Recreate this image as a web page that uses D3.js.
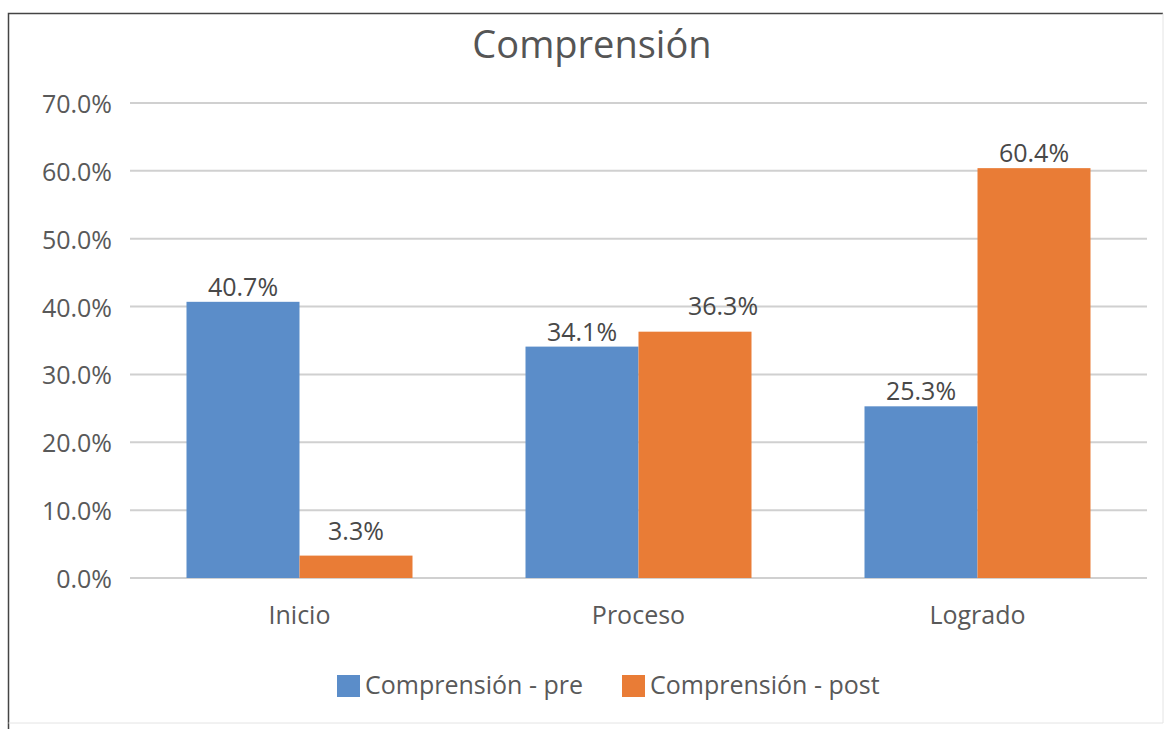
<!DOCTYPE html>
<html>
<head>
  <meta charset="utf-8">
  <title>Comprensión</title>
  <style>
    body { margin: 0; background: white; }
    text { font-family: "Open Sans", "DejaVu Sans", sans-serif; }
    .grid line { stroke: #d0d0d0; stroke-width: 2px; }
    .tick-label { fill: #595959; font-size: 25px; }
    .value-label { fill: #484848; font-size: 25px; }
  </style>
</head>
<body>
  <div id="chart"></div>

  <script src="https://d3js.org/d3.v7.min.js"></script>
  <script>
    const categories = ["Inicio", "Proceso", "Logrado"];
    const seriesNames = ["Comprensión - pre", "Comprensión - post"];
    const preValues = [40.7, 34.1, 25.3];
    const postValues = [3.3, 36.3, 60.4];
    const yTicks = [0, 10, 20, 30, 40, 50, 60, 70];
    const colors = ["#5b8dc9", "#e97c36"];

    const width = 1165, height = 729;
    const plot = { left: 130, right: 1147, top: 103, bottom: 578 };

    // a couple of data labels were dragged by hand in the original
    function labelNudge(cat, series) {
      if (cat === "Inicio" && series === 1) return [0, -10];
      if (cat === "Proceso" && series === 1) return [28, -11];
      return [0, 0];
    }

    const svg = d3.select("#chart")
      .append("svg")
      .attr("width", width)
      .attr("height", height);

    // chart frame: dark left/top, faint right/bottom
    svg.append("path")
      .attr("d", "M1163,13.5 H8.5 V729")
      .attr("fill", "none")
      .attr("stroke", "#444").attr("stroke-width", 1.5);
    svg.append("path")
      .attr("d", "M1163,13.5 V723 H8.5")
      .attr("fill", "none")
      .attr("stroke", "#e4e4e4").attr("stroke-width", 1);

    svg.append("text")
      .attr("x", 592).attr("y", 58)
      .attr("text-anchor", "middle")
      .attr("fill", "#555")
      .style("font-size", "38px")
      .text("Comprensión");

    const y = d3.scaleLinear().domain([0, 70]).range([plot.bottom, plot.top]);
    const x0 = d3.scaleBand().domain(categories)
      .range([plot.left, plot.right])
      .paddingInner(1 / 3).paddingOuter(1 / 6);
    const x1 = d3.scaleBand().domain([0, 1]).range([0, x0.bandwidth()]);

    // gridlines
    svg.append("g").attr("class", "grid")
      .selectAll("line").data(yTicks).enter().append("line")
      .attr("x1", plot.left).attr("x2", plot.right)
      .attr("y1", d => y(d)).attr("y2", d => y(d));

    // y tick labels
    svg.append("g").selectAll("text").data(yTicks).enter().append("text")
      .attr("class", "tick-label")
      .attr("x", 112).attr("y", d => y(d) + 10)
      .attr("text-anchor", "end")
      .text(d => d.toFixed(1) + "%");

    // bars
    const groups = svg.append("g").selectAll("g")
      .data(categories).enter().append("g")
      .attr("transform", d => "translate(" + x0(d) + ",0)");

    groups.selectAll("rect")
      .data((d, i) => [preValues[i], postValues[i]])
      .enter().append("rect")
      .attr("x", (d, j) => x1(j))
      .attr("width", x1.bandwidth())
      .attr("y", d => y(d))
      .attr("height", d => y(0) - y(d))
      .attr("fill", (d, j) => colors[j]);

    groups.each(function (cat, i) {
      d3.select(this).selectAll(".value-label")
        .data([preValues[i], postValues[i]])
        .enter().append("text")
        .attr("class", "value-label")
        .attr("x", (d, j) => x1(j) + x1.bandwidth() / 2 + labelNudge(cat, j)[0])
        .attr("y", (d, j) => y(d) - 6 + labelNudge(cat, j)[1])
        .attr("text-anchor", "middle")
        .text(d => d.toFixed(1) + "%");
    });

    // category labels
    svg.append("g").selectAll("text").data(categories).enter().append("text")
      .attr("class", "tick-label")
      .attr("x", d => x0(d) + x0.bandwidth() / 2)
      .attr("y", 624)
      .attr("text-anchor", "middle")
      .text(d => d);

    // legend
    const legendX = [337, 622];
    const legend = svg.append("g").selectAll("g")
      .data(seriesNames).enter().append("g")
      .attr("transform", (d, i) => "translate(" + legendX[i] + ",675)");
    legend.append("rect")
      .attr("width", 23).attr("height", 22)
      .attr("fill", (d, i) => colors[i]);
    legend.append("text")
      .attr("class", "tick-label")
      .attr("x", 28).attr("y", 19)
      .text(d => d);
  </script>
</body>
</html>
